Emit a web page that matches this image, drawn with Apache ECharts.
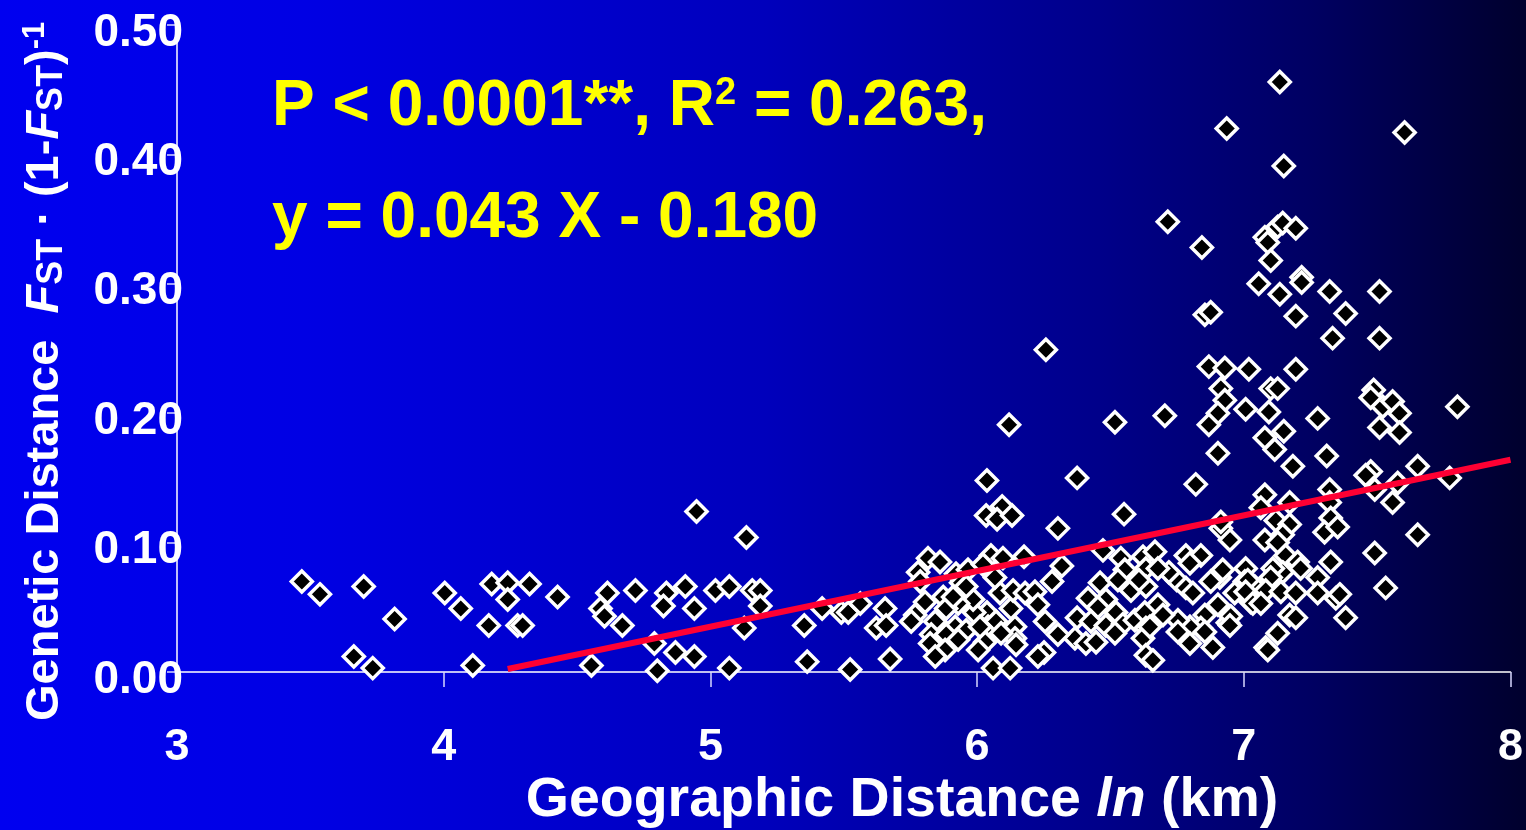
<!DOCTYPE html>
<html>
<head>
<meta charset="utf-8">
<script src="https://cdn.jsdelivr.net/npm/echarts@6/dist/echarts.min.js"></script>
<style>
html,body{margin:0;padding:0;width:1526px;height:830px;overflow:hidden;}
#chart{width:1526px;height:830px;}
</style>
</head>
<body>
<div id="chart"></div>
<script>
// Geographic distance ln(km)
var geoDist = [
3.468,3.536,3.700,3.663,3.734,3.816,4.004,4.064,4.109,4.169,4.180,4.240,4.240,4.322,4.277,4.296,4.427,4.614,4.588,4.603,
4.670,4.719,4.835,4.824,4.906,4.940,5.019,5.071,5.157,5.187,5.187,5.127,5.135,4.948,4.554,4.790,4.869,4.940,4.801,5.071,
5.352,5.419,5.491,5.517,5.562,5.655,5.622,5.659,5.363,5.524,5.674,5.816,5.861,5.779,5.787,5.921,5.966,6.052,6.097,6.176,
6.318,6.281,6.472,6.539,6.554,6.622,6.667,6.633,6.461,6.528,6.577,6.633,6.416,6.483,6.521,6.453,6.375,6.427,6.483,6.547,
6.592,6.629,6.633,6.367,6.408,6.446,6.517,6.622,6.633,6.659,6.303,6.255,6.251,6.228,6.142,6.142,6.146,6.127,6.086,6.135,
6.180,6.217,6.228,6.037,6.041,6.071,6.090,6.030,6.004,6.060,6.124,5.989,5.985,5.940,5.929,5.873,5.884,5.805,5.768,5.753,
5.843,5.918,5.959,5.828,5.824,5.884,5.929,5.880,5.843,6.022,6.067,6.011,6.037,6.375,6.034,6.094,6.075,6.131,6.551,6.303,
5.910,5.959,6.948,6.914,7.079,6.607,6.749,6.719,6.783,6.839,6.798,6.783,6.809,6.910,6.876,6.921,7.007,7.004,7.041,6.966,
7.026,6.903,6.940,6.854,6.839,6.798,6.753,6.753,6.678,6.697,6.648,6.798,6.854,6.884,7.082,6.678,7.116,7.184,7.311,7.476,
7.457,7.652,7.491,7.577,7.558,7.772,7.652,7.491,7.532,7.079,7.064,7.172,7.120,7.172,7.146,7.127,7.322,7.322,7.326,7.303,
7.352,7.157,7.202,7.213,7.326,7.146,7.109,7.101,7.277,7.015,7.007,7.082,7.139,7.195,7.277,7.345,7.360,7.034,7.064,7.382,
7.172,7.195,6.951,6.948,7.127,7.090,7.135,6.936,7.603,7.150,6.715,6.843,7.079,7.090,7.127,7.146,7.195,7.101,7.217,7.217,
7.056,7.135,7.322,7.509,6.854,6.876,7.195,7.382,7.333,7.509,6.869,6.929,7.019,7.195,6.914,6.929,6.903,6.869,7.007,7.094,
7.101,7.127,7.277,7.150,7.079,6.903,6.517,6.704,7.487,7.476,7.521,7.558,7.584,7.509,7.584,7.801,6.258,6.120,6.820,6.914
];
// Genetic distance Fst/(1-Fst)
var genDist = [
0.070,0.060,0.066,0.012,0.003,0.041,0.061,0.049,0.005,0.036,0.068,0.069,0.056,0.068,0.036,0.036,0.058,0.061,0.049,0.043,
0.036,0.063,0.061,0.051,0.066,0.049,0.063,0.066,0.063,0.063,0.051,0.034,0.104,0.124,0.005,0.022,0.015,0.012,0.001,0.003,
0.036,0.049,0.046,0.046,0.053,0.049,0.034,0.036,0.008,0.002,0.010,0.088,0.085,0.077,0.070,0.076,0.079,0.090,0.088,0.089,
0.082,0.070,0.094,0.088,0.079,0.089,0.093,0.080,0.069,0.071,0.063,0.066,0.057,0.056,0.046,0.050,0.042,0.039,0.036,0.037,
0.040,0.046,0.034,0.026,0.022,0.023,0.030,0.026,0.013,0.009,0.029,0.039,0.015,0.012,0.035,0.026,0.021,0.049,0.061,0.063,
0.061,0.062,0.052,0.046,0.035,0.039,0.030,0.023,0.017,0.003,0.003,0.046,0.056,0.069,0.053,0.058,0.049,0.054,0.044,0.039,
0.039,0.035,0.032,0.029,0.022,0.029,0.025,0.017,0.012,0.083,0.073,0.035,0.148,0.150,0.121,0.128,0.118,0.121,0.122,0.111,
0.058,0.066,0.102,0.111,0.102,0.071,0.071,0.077,0.090,0.090,0.084,0.065,0.061,0.073,0.070,0.079,0.080,0.070,0.066,0.061,
0.054,0.052,0.038,0.044,0.034,0.035,0.040,0.031,0.052,0.044,0.035,0.022,0.031,0.019,0.019,0.080,0.172,0.159,0.167,0.155,
0.152,0.159,0.141,0.146,0.131,0.150,0.106,0.092,0.065,0.137,0.127,0.131,0.117,0.114,0.106,0.100,0.141,0.131,0.119,0.108,
0.112,0.090,0.085,0.080,0.085,0.077,0.080,0.073,0.073,0.071,0.062,0.063,0.062,0.061,0.061,0.057,0.060,0.053,0.053,0.042,
0.044,0.042,0.043,0.036,0.030,0.017,0.456,0.420,0.417,0.391,0.348,0.328,0.336,0.332,0.344,0.347,0.343,0.318,0.305,0.301,
0.300,0.292,0.294,0.294,0.276,0.278,0.275,0.277,0.258,0.258,0.236,0.235,0.234,0.234,0.219,0.210,0.200,0.191,0.203,0.201,
0.219,0.219,0.196,0.186,0.181,0.169,0.193,0.198,0.218,0.212,0.205,0.209,0.200,0.189,0.185,0.205,0.249,0.191,0.145,0.116
];
// regression: y = 0.043 X - 0.180
var slope = 0.043, intercept = -0.180;
var fitRange = [4.24, 8];
var xTicks = [3, 4, 5, 6, 7, 8];
var yTicks = ['0.00','0.10','0.20','0.30','0.40','0.50'];

var points = geoDist.map(function (x, i) { return [x, genDist[i]]; });
var fitLine = fitRange.map(function (x) { return [x, slope * x + intercept]; });

var FONT = '"Liberation Sans", Arial, Helvetica, sans-serif';
var chart = echarts.init(document.getElementById('chart'), null, {renderer: 'canvas'});
chart.setOption({
  animation: false,
  backgroundColor: {
    type: 'linear', x: 0, y: 0, x2: 1, y2: 0,
    colorStops: [
      {offset: 0, color: 'rgb(0,0,240)'},
      {offset: 0.2, color: 'rgb(0,0,228)'},
      {offset: 0.5, color: 'rgb(0,0,188)'},
      {offset: 0.72, color: 'rgb(0,0,138)'},
      {offset: 0.86, color: 'rgb(0,0,98)'},
      {offset: 1, color: 'rgb(0,0,45)'}
    ]
  },
  grid: {left: 177, right: 13, top: 25, bottom: 158, containLabel: false},
  xAxis: {
    type: 'value', min: 3, max: 8, interval: 1,
    axisLine: {show: true, lineStyle: {color: '#ffffff', width: 1.5}},
    axisTick: {show: true, length: 15, lineStyle: {color: '#d8d8ff', width: 1.5}},
    splitLine: {show: false},
    axisLabel: {
      color: '#ffffff', fontSize: 45, fontWeight: 'bold', fontFamily: FONT, margin: 53,
      formatter: function (v) { return xTicks.indexOf(v) >= 0 ? String(v) : ''; }
    }
  },
  yAxis: {
    type: 'value', min: 0, max: 0.5, interval: 0.1,
    axisLine: {show: true, lineStyle: {color: '#ffffff', width: 1.5}},
    axisTick: {show: true, length: 10, lineStyle: {color: '#d8d8ff', width: 1.5}},
    splitLine: {show: false},
    axisLabel: {
      color: '#ffffff', fontSize: 46, fontWeight: 'bold', fontFamily: FONT, margin: -6,
      verticalAlign: 'top', lineHeight: 16,
      formatter: function (v) { return yTicks[Math.round(v * 10)]; }
    }
  },
  graphic: [
    {
      type: 'text', x: 272, y: 107, z: 10,
      style: {
        text: '{a|P < 0.0001**, R}{sup|2}{a| = 0.263,}',
        fill: '#ffff00', align: 'left', verticalAlign: 'middle',
        rich: {
          a: {fontSize: 64, fontWeight: 'bold', fontFamily: FONT, fill: '#ffff00', lineHeight: 64},
          sup: {fontSize: 38, fontWeight: 'bold', fontFamily: FONT, fill: '#ffff00', lineHeight: 34, verticalAlign: 'top'}
        }
      }
    },
    {
      type: 'text', x: 272, y: 219, z: 10,
      style: {
        text: 'y = 0.043 X - 0.180',
        fill: '#ffff00', fontSize: 64, fontWeight: 'bold', fontFamily: FONT,
        align: 'left', verticalAlign: 'middle'
      }
    },
    {
      type: 'text', x: 45, y: 721, rotation: Math.PI / 2, z: 10,
      style: {
        text: '{a|Genetic Distance  }{i|F}{s|ST}{a| · (1-}{i|F}{s|ST}{a|)}{sup|-1}',
        fill: '#ffffff', align: 'left', verticalAlign: 'middle',
        rich: {
          a: {fontSize: 47, fontWeight: 'bold', fontFamily: FONT, fill: '#fff', lineHeight: 50},
          i: {fontSize: 47, fontWeight: 'bold', fontStyle: 'italic', fontFamily: FONT, fill: '#fff', lineHeight: 50},
          s: {fontSize: 36, fontWeight: 'bold', fontFamily: FONT, fill: '#fff', lineHeight: 42, verticalAlign: 'bottom'},
          sup: {fontSize: 31, fontWeight: 'bold', fontFamily: FONT, fill: '#fff', lineHeight: 12, verticalAlign: 'top'}
        }
      }
    },
    {
      type: 'text', x: 902, y: 801, z: 10,
      style: {
        text: '{a|Geographic Distance }{i|ln}{a| (km)}',
        fill: '#ffffff', align: 'center', verticalAlign: 'middle',
        rich: {
          a: {fontSize: 55.5, fontWeight: 'bold', fontFamily: FONT, fill: '#fff', lineHeight: 60},
          i: {fontSize: 55.5, fontWeight: 'bold', fontStyle: 'italic', fontFamily: FONT, fill: '#fff', lineHeight: 60}
        }
      }
    }
  ],
  series: [
    {
      type: 'scatter', data: points, symbol: 'diamond', symbolSize: 21, z: 2,
      itemStyle: {color: '#000000', borderColor: '#ffffff', borderWidth: 3.5, opacity: 1}
    },
    {
      type: 'line', data: fitLine, symbol: 'none', z: 3, silent: true,
      lineStyle: {color: '#ff0033', width: 6}
    }
  ]
});
</script>
</body>
</html>
